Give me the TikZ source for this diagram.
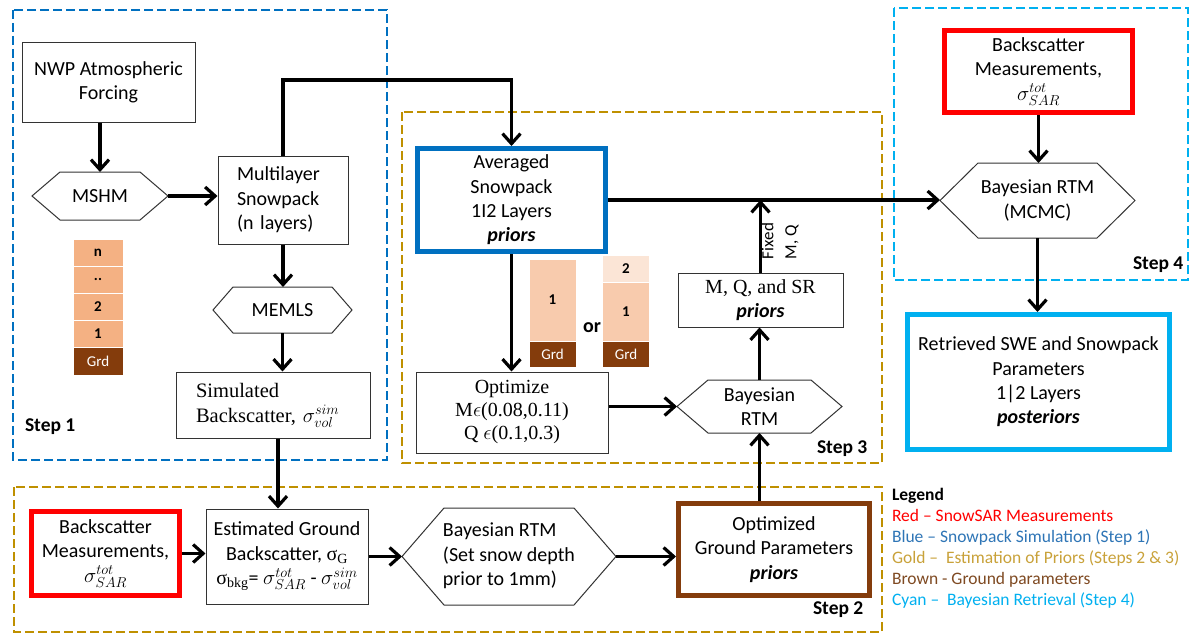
\documentclass[tikz,border=0pt]{standalone}
\usepackage{fontspec}
\setmainfont{Carlito}
\newfontfamily\cam{Liberation Serif}
\usetikzlibrary{arrows.meta,calc}
\definecolor{cblue}{HTML}{0070C0}
\definecolor{cgold}{HTML}{BF9000}
\definecolor{ccyan}{HTML}{00B0F0}
\definecolor{cred}{HTML}{FF0000}
\definecolor{cbrown}{HTML}{843C0C}
\definecolor{layA}{HTML}{F4B183}
\definecolor{layB}{HTML}{F8CBAD}
\definecolor{layC}{HTML}{FBE5D6}
\definecolor{lblue}{HTML}{2E75B6}
\definecolor{lgold}{HTML}{C9A23A}
\definecolor{lbrown}{HTML}{7F4A22}
% #1 name, #2 x, #3 y, #4 width, #5 height, #6 slant, #7 text
\newcommand\hexnode[7]{%
  \node[hexin, minimum width=#4, minimum height=#5] (#1) at (#2,#3) {#7};
  \draw[thinline] (#1.west) -- ([xshift=#6]#1.north west) -- ([xshift=-#6]#1.north east)
     -- (#1.east) -- ([xshift=-#6]#1.south east) -- ([xshift=#6]#1.south west) -- cycle;
}
\begin{document}
\begin{tikzpicture}[x=1pt,y=-1pt,
  every node/.style={inner sep=0pt, outer sep=0pt},
  mainf/.style={font=\fontsize{20}{24.4}\selectfont},
  thinline/.style={draw=black!80, line width=1pt},
  box/.style={thinline, align=center, mainf, outer sep=0.5pt},
  thickbox/.style={draw=#1, line width=5pt, align=center, mainf, outer sep=2.5pt},
  hexin/.style={align=center, mainf},
  frame/.style={draw=#1, line width=2.5pt, dash pattern=on 9pt off 4pt},
  arr/.style={line width=3.2pt, -{Straight Barb[length=10pt,width=18pt]}},
  cell/.style={fill=#1, draw=white, line width=1pt, font=\bfseries\fontsize{15}{15}\selectfont},
  grd/.style={fill=cbrown, draw=white, line width=1pt, text=white, font=\fontsize{15}{15}\selectfont},
  steplab/.style={anchor=base west, font=\bfseries\fontsize{19.5}{22}\selectfont},
  leg/.style={anchor=base west, font=\fontsize{17.5}{21}\selectfont}
]
\useasboundingbox (0,0) rectangle (1193,634);
\fill[white] (0,0) rectangle (1193,634);

% frames
\draw[frame=cblue] (13,10) rectangle (387,460);
\draw[frame=cgold] (402,112) rectangle (882,463);
\draw[frame=ccyan] (894,8) rectangle (1188,280);
\draw[frame=cgold] (14,487) rectangle (882,632);

% ---- Step 1
\node[box, minimum width=173, minimum height=79] (nwp) at (108.5,82.5) {NWP Atmospheric\\Forcing};
\hexnode{mshm}{100}{196}{136}{48}{28}{MSHM}
\node[box, minimum height=88, text width=92, inner xsep=19, align=left] (multi) at (283,200) {Multilayer\\Snowpack\\(n layers)};
\hexnode{memls}{282.5}{310}{139}{46}{20}{MEMLS}
\node[box, minimum height=66, text width=154, inner xsep=20, align=left, font=\cam\fontsize{20.5}{25}\selectfont] (sim) at (273,405) {Simulated\\Backscatter, $\sigma^{sim}_{vol}$};

\node[cell=layA, minimum width=50, minimum height=27] (s1n) at (98,252.5) {n};
\node[cell=layA, minimum width=50, minimum height=27] (s1d) at (98,279.5) {..};
\node[cell=layA, minimum width=50, minimum height=27] (s12) at (98,306.5) {2};
\node[cell=layA, minimum width=50, minimum height=27] (s11) at (98,333.5) {1};
\node[grd, minimum width=50, minimum height=28] (s1g) at (98,361) {Grd};
\node[steplab] (st1) at (25,431) {Step 1};

% ---- Step 3
\node[thickbox=cblue, minimum width=188, minimum height=103] (avg) at (511.5,200) {Averaged\\Snowpack\\1I2 Layers\\\textbf{\textit{priors}}};
\node[box, minimum width=192, minimum height=81, font=\cam\fontsize{20}{23}\selectfont] (opt) at (512,412.5) {Optimize\\M$\epsilon$(0.08,0.11)\\Q $\epsilon$(0.1,0.3)};
\hexnode{b3}{759.5}{406.5}{165}{53}{31}{Bayesian\\RTM}
\node[box, minimum width=165, minimum height=54] (mq) at (760.5,300) {{\cam M, Q, and SR}\\\textbf{\textit{priors}}};
\node[rotate=90, align=left, font=\fontsize{17}{23}\selectfont] (fixed) at (780,241) {Fixed\\M, Q};

\node[cell=layB, minimum width=47, minimum height=82] (a1) at (552.5,300) {1};
\node[grd, minimum width=47, minimum height=26] (ag) at (552.5,354) {Grd};
\node[anchor=base, font=\bfseries\fontsize{20}{22}\selectfont] (or) at (592,332) {or};
\node[cell=layC, minimum width=47, minimum height=27] (b2c) at (626,268.5) {2};
\node[cell=layB, minimum width=47, minimum height=59] (b1c) at (626,311.5) {1};
\node[grd, minimum width=47, minimum height=26] (bg) at (626,354) {Grd};
\node[steplab] (st3) at (817,453) {Step 3};

% ---- Step 4
\node[thickbox=cred, minimum width=188, minimum height=82] (redtop) at (1038.5,71.5) {Backscatter\\Measurements,\\$\sigma^{tot}_{SAR}$};
\hexnode{mcmc}{1037.5}{200.5}{195}{75}{38}{Bayesian RTM\\(MCMC)}
\node[thickbox=ccyan, minimum width=262, minimum height=135] (ret) at (1038.5,382) {Retrieved SWE and Snowpack\\Parameters\\1|2 Layers\\\textbf{\textit{posteriors}}};
\node[steplab] (st4) at (1133,269) {Step 4};

% ---- Step 2
\node[thickbox=cred, minimum width=148, minimum height=84] (redbot) at (105.5,553.5) {Backscatter\\Measurements,\\$\sigma^{tot}_{SAR}$};
\node[box, minimum width=162, minimum height=95] (est) at (287,556.5) {Estimated Ground\\Backscatter, {\cam σ\textsubscript{G}}\\{\cam σ\textsubscript{bkg}}= $\sigma^{tot}_{SAR}$ - $\sigma^{sim}_{vol}$};
\hexnode{b2}{509}{556.5}{214}{97}{42}{\begin{tabular}{@{}l@{}}Bayesian RTM\\(Set snow depth\\prior to 1mm)\end{tabular}}
\node[thickbox=cbrown, minimum width=191, minimum height=92] (og) at (774,549.5) {Optimized\\Ground Parameters\\\textbf{\textit{priors}}};
\node[steplab] (st2) at (813,614) {Step 2};

% ---- legend
\node[leg, font=\bfseries\fontsize{17.5}{21}\selectfont] (lg0) at (892,500) {Legend};
\node[leg, text=cred] (lg1) at (892,521) {Red – SnowSAR Measurements};
\node[leg, text=lblue] (lg2) at (892,542) {Blue – Snowpack Simulation (Step 1)};
\node[leg, text=lgold] (lg3) at (892,563) {Gold –\ \ Estimation of Priors (Steps 2 \& 3)};
\node[leg, text=lbrown] (lg4) at (892,584) {Brown - Ground parameters};
\node[leg, text=ccyan] (lg5) at (892,605) {Cyan –\ \ Bayesian Retrieval (Step 4)};

% ---- connectors
\coordinate (toprow) at (0,80);
\draw[arr] (nwp.south -| mshm.north) -- (mshm.north);
\draw[arr] (mshm.east) -- (mshm.east -| multi.west);
\draw[arr] (multi.south) -- (multi.south |- memls.north);
\draw[arr] (memls.south) -- (memls.south |- sim.north);
\draw[arr] ([xshift=5pt]sim.south) -- ([xshift=5pt]sim.south |- est.north);
\draw[arr] (multi.north) -- (multi.north |- toprow) -| (avg.north);
\draw[arr] (avg.east) -- (avg.east -| mcmc.west);
\draw[arr] (avg.south) -- (avg.south |- opt.north);
\draw[arr] (opt.east |- b3.west) -- (b3.west);
\draw[arr] (b3.north) -- (b3.north |- mq.south);
\draw[arr] (mq.north) -- (mq.north |- avg.east);
\draw[arr] (b3.south |- og.north) -- (b3.south);
\draw[arr] (redtop.south) -- (redtop.south |- mcmc.north);
\draw[arr] (mcmc.south) -- (mcmc.south |- ret.north);
\draw[arr] (redbot.east) -- (redbot.east -| est.west);
\draw[arr] (est.east) -- (b2.west);
\draw[arr] (b2.east) -- (b2.east -| og.west);
\end{tikzpicture}
\end{document}
